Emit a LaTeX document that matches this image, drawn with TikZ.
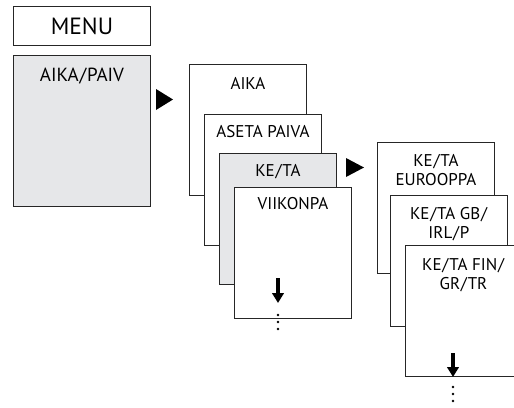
\documentclass[tikz,border=0pt]{standalone}
\usepackage{fontspec}
\setmainfont{PT Sans}
\usetikzlibrary{arrows.meta,positioning}
\definecolor{panelgray}{HTML}{E6E7E9}
\newcommand{\slh}{\kern0.8pt/\kern0.8pt}
\tikzset{
  card/.style    = {shape=rectangle, draw=black!85, line width=0.9pt,
                    fill=white, anchor=north west,
                    minimum width=117pt, minimum height=131pt, inner sep=0pt},
  shaded/.style  = {card, fill=panelgray},
  lbl/.style     = {anchor=base, align=center, inner sep=0pt,
                    font=\fontsize{17}{19}\selectfont},
  dnarrow/.style = {line width=4.8pt, -{Triangle[width=11.5pt,length=10pt]}},
  playmark/.style = {fill=black}
}
\begin{document}
\begin{tikzpicture}
  [
    x = 1pt,
    y = -1pt
  ]
  \useasboundingbox (0,0) rectangle (514,407);
  \clip (0,0) rectangle (514,407);
  % left column
  \node [card, minimum width=137pt, minimum height=39pt, font=\fontsize{23.5}{26}\selectfont] (menu) at (13,6) {MENU};
  \node [shaded, minimum width=137pt, minimum height=151pt] (aikapaiv) at (13,55) {};
  \node [lbl, font=\fontsize{19}{22}\selectfont] (aikapaiv-t) at ([yshift=-26.5pt]aikapaiv.north) {AIKA\slh PAIV};
  \fill [playmark] (156,89) -- (173,99.5) -- (156,110) -- cycle;
  % second column
  \node [card]   (aika)   at (189,64)  {};
  \node [lbl] (aika-t)   at ([yshift=-25pt]aika.north) {AIKA};
  \node [card]   (aseta)  at (204,114) {};
  \node [lbl] (aseta-t)  at ([yshift=-23pt]aseta.north) {ASETA PAIVA};
  \node [shaded] (keta)   at (219,153) {};
  \node [lbl] (keta-t)   at ([yshift=-23.5pt]keta.north) {KE\slh TA};
  \node [card]   (viikon) at (234,187) {};
  \node [lbl] (viikon-t) at ([yshift=-22.5pt]viikon.north) {VIIKONPA};
  \coordinate (va) at (278,278);
  \coordinate (vb) at (278,303);
  \draw [dnarrow] (va) -- (vb);
  \foreach \y in {315,322,329}
    \fill (278,\y) circle (1.3pt);
  \fill [playmark] (346,158) -- (364,167.5) -- (346,177) -- cycle;
  % third column
  \node [card] (eur) at (377,142) {};
  \node [lbl]  (eur-t) at ([yshift=-43.5pt]eur.north) {KE\slh TA\\EUROOPPA};
  \node [card] (gb)  at (390,195) {};
  \node [lbl]  (gb-t)  at ([yshift=-43.5pt]gb.north) {KE\slh TA GB\slh\\IRL\slh P};
  \node [card, minimum width=140pt] (fin) at (405,245) {};
  \node [lbl]  (fin-t) at ([yshift=-44pt]fin.north west) [xshift=58.5pt] {KE\slh TA FIN\slh\\GR\slh TR};
  \coordinate (fa) at (453,353);
  \coordinate (fb) at (453,377);
  \draw [dnarrow] (fa) -- (fb);
  \foreach \y in {387,394,401}
    \fill (453,\y) circle (1.3pt);
\end{tikzpicture}
\end{document}
